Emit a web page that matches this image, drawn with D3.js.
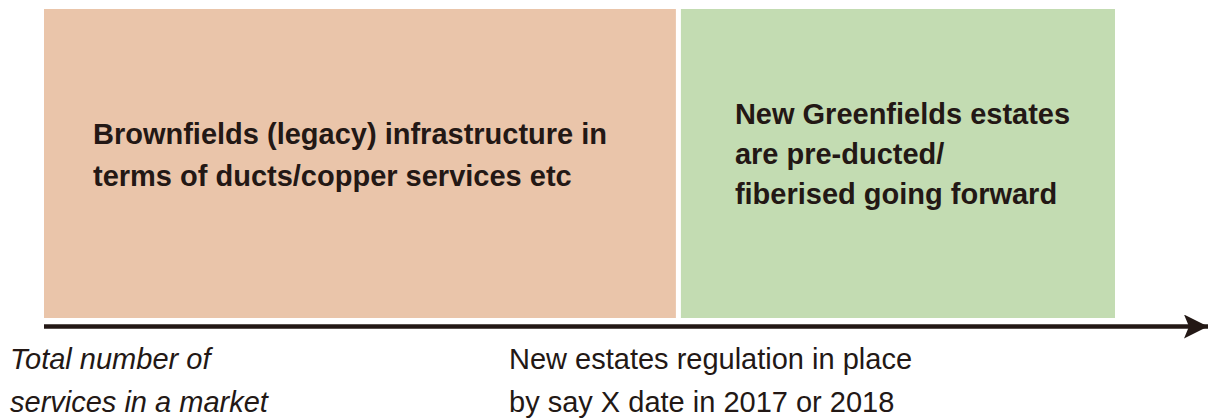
<!DOCTYPE html>
<html>
<head>
<meta charset="utf-8">
<script src="https://cdn.jsdelivr.net/npm/d3@7"></script>
<style>
  body { margin: 0; background: #fff; }
  text { font-family: "Liberation Sans", Arial, sans-serif; fill: #231815; }
</style>
</head>
<body>
<div id="chart"></div>
<script>
var width = 1208, height = 419;

// segments of the market (share of total services)
var segments = ["Brownfields", "Greenfields"];
var shares = [0.59, 0.41];
var segmentLines = [
    ["Brownfields (legacy) infrastructure in", "terms of ducts/copper services etc"],
    ["New Greenfields estates", "are pre-ducted/", "fiberised going forward"]
];
var axisLeftLines = ["Total number of", "services in a market"];
var axisMidLines = ["New estates regulation in place", "by say X date in 2017 or 2018"];

var colors = { Brownfields: "#eac5aa", Greenfields: "#c3dcb2" };

var svg = d3.select("#chart")
    .append("svg")
    .attr("width", width)
    .attr("height", height);

var x = d3.scaleLinear()
    .domain([0, 1])
    .range([44, 1115]);

var y = d3.scaleLinear()
    .domain([0, 1])
    .range([318, 9]);

var starts = d3.cumsum([0].concat(shares.slice(0, -1)));
var data = segments.map(function (s, i) {
    return { name: s, start: starts[i], end: starts[i] + shares[i], lines: segmentLines[i] };
});

var gap = 5;

svg.selectAll("rect.seg")
    .data(data)
    .enter()
    .append("rect")
    .attr("class", "seg")
    .attr("x", function (d, i) { return x(d.start) + (i > 0 ? gap : 0); })
    .attr("y", y(1))
    .attr("width", function (d, i) { return x(d.end) - x(d.start) - (i > 0 ? gap : 0); })
    .attr("height", y(0) - y(1))
    .attr("fill", function (d) { return colors[d.name]; });

// segment labels
var labelPos = [{ dx: 49, y0: 144, lh: 42 }, { dx: 54, y0: 124, lh: 40 }];
svg.selectAll("text.seg")
    .data(data)
    .enter()
    .append("text")
    .attr("class", "seg")
    .attr("font-weight", "bold")
    .attr("font-size", 29)
    .each(function (d, i) {
        var t = d3.select(this);
        var x0 = x(d.start) + (i > 0 ? gap : 0) + labelPos[i].dx;
        d.lines.forEach(function (line, j) {
            t.append("tspan")
                .attr("x", x0)
                .attr("y", labelPos[i].y0 + j * labelPos[i].lh)
                .text(line);
        });
    });

// axis arrow
svg.append("defs").append("marker")
    .attr("id", "arrow")
    .attr("viewBox", "0 0 24 24")
    .attr("refX", 24)
    .attr("refY", 12)
    .attr("markerWidth", 24)
    .attr("markerHeight", 24)
    .attr("markerUnits", "userSpaceOnUse")
    .attr("orient", "auto")
    .append("path")
    .attr("d", "M0,0 L24,12 L0,24 L5,12 Z")
    .attr("fill", "#231815");

svg.append("line")
    .attr("x1", x(0))
    .attr("x2", width)
    .attr("y1", 326.5)
    .attr("y2", 326.5)
    .attr("stroke", "#231815")
    .attr("stroke-width", 4.5)
    .attr("marker-end", "url(#arrow)");

// axis captions
var cap1 = svg.append("text")
    .attr("font-style", "italic")
    .attr("font-size", 29);
axisLeftLines.forEach(function (line, j) {
    cap1.append("tspan").attr("x", 10).attr("y", 369 + j * 43).text(line);
});

var cap2 = svg.append("text")
    .attr("font-size", 29);
axisMidLines.forEach(function (line, j) {
    cap2.append("tspan").attr("x", 509).attr("y", 369 + j * 43).text(line);
});
</script>
</body>
</html>
